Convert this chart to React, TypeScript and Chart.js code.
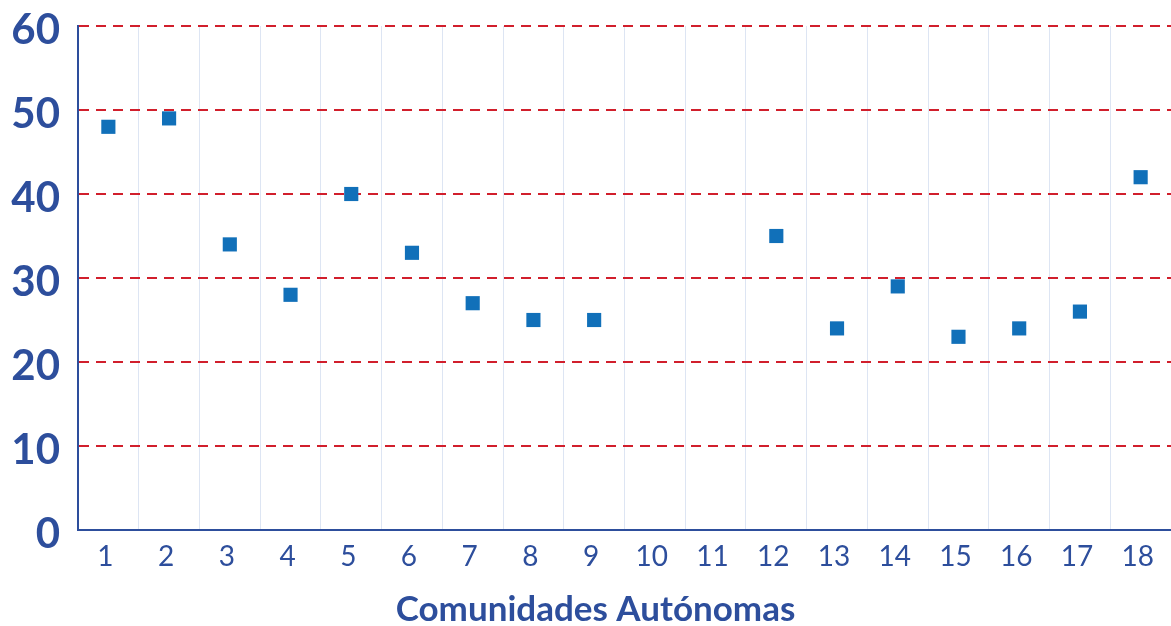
import React, { useEffect, useRef } from "react";
import { Chart, registerables } from "chart.js";

Chart.register(...registerables);

const categories = ["1", "2", "3", "4", "5", "6", "7", "8", "9", "10", "11", "12", "13", "14", "15", "16", "17", "18"];
const values: (number | null)[] = [48, 49, 34, 28, 40, 33, 27, 25, 25, null, null, 35, 24, 29, 23, 24, 26, 42];
const yTicks = [0, 10, 20, 30, 40, 50, 60];
const xTitle = "Comunidades Autónomas";

const NAVY = "#2d4e9c";
const RED = "#d11f2c";
const POINT = "#1170b9";
const VGRID = "#dde5f3";

const titlePlugin = {
  id: "bottomTitle",
  afterDraw(chart: any) {
    const ctx = chart.ctx;
    ctx.save();
    ctx.font = "bold 35px Lato";
    ctx.fillStyle = NAVY;
    ctx.textAlign = "center";
    ctx.textBaseline = "middle";
    ctx.fillText(xTitle, chart.width / 2 + 10, chart.height - 16);
    ctx.restore();
  },
};

export default function App() {
  const ref = useRef<HTMLCanvasElement | null>(null);
  useEffect(() => {
    if (!ref.current) return;
    const chart = new Chart(ref.current, {
      type: "line",
      data: {
        labels: categories,
        datasets: [
          {
            data: values,
            showLine: false,
            clip: false,
            pointStyle: "rect",
            pointRadius: 10,
            pointHoverRadius: 10,
            pointBackgroundColor: POINT,
            pointBorderColor: POINT,
            pointBorderWidth: 0,
          },
        ],
      },
      plugins: [titlePlugin],
      options: {
        responsive: false,
        animation: false,
        layout: { autoPadding: false, padding: { top: 26, right: 0, left: 0, bottom: 0 } },
        plugins: { legend: { display: false }, tooltip: { enabled: false } },
        scales: {
          x: {
            type: "category",
            offset: true,
            grid: { offset: true, color: VGRID, lineWidth: 1, drawTicks: false },
            border: { display: true, color: NAVY, width: 2 },
            ticks: {
              color: NAVY,
              padding: 10,
              labelOffset: -3,
              maxRotation: 0,
              autoSkip: false,
              font: { family: "Lato", size: 28, weight: "normal" },
            },
            title: { display: false },
            afterFit: (scale: any) => {
              scale.height = 96;
              scale.paddingLeft = 0;
              scale.paddingRight = 0;
            },
          },
          y: {
            min: 0,
            max: 60,
            afterBuildTicks: (scale: any) => {
              scale.ticks = yTicks.map((v) => ({ value: v }));
            },
            grid: {
              color: (ctx: any) => (ctx.tick && ctx.tick.value === 0 ? "rgba(0,0,0,0)" : RED),
              lineWidth: 2,
              drawTicks: false,
            },
            border: { display: true, color: NAVY, width: 2, dash: [10, 7] },
            ticks: {
              color: NAVY,
              padding: 18,
              labelOffset: 4,
              font: { family: "Lato", size: 42, weight: "bold" },
            },
            afterFit: (scale: any) => {
              scale.width = 78;
              scale.paddingTop = 0;
              scale.paddingBottom = 0;
            },
          },
        },
      },
    });
    return () => chart.destroy();
  }, []);
  return (
    <div style={{ position: "fixed", left: 0, top: 0, width: 1171, height: 626, background: "#fff" }}>
      <canvas ref={ref} width={1171} height={626} style={{ display: "block" }} />
    </div>
  );
}
